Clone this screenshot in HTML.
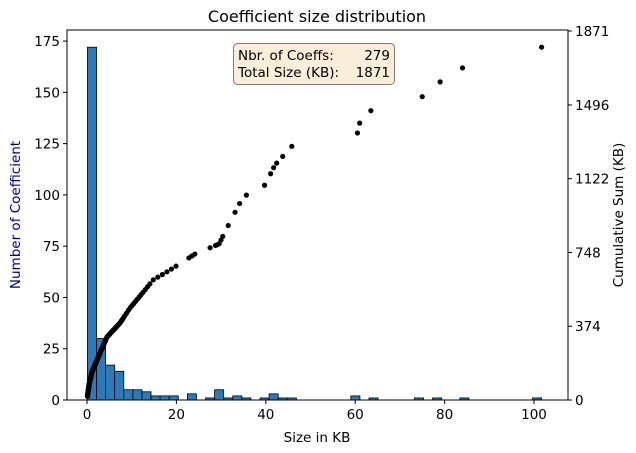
<!DOCTYPE html>
<html><head><meta charset="utf-8"><style>
body{margin:0;background:#fff}
svg{display:block;font-family:"DejaVu Sans","Liberation Sans",sans-serif}
</style></head><body>
<svg id="s" width="636" height="453" viewBox="0 0 636 453" xmlns="http://www.w3.org/2000/svg">
<rect width="636" height="453" fill="#fff"/>
<g id="bars"></g>
<g id="dots"></g>
<rect x="67" y="30" width="501" height="370" fill="none" stroke="#000" stroke-width="1"/>
<g id="ticks" stroke="#000" stroke-width="1"></g>
<g id="labels" font-size="13.5" fill="#000"></g>
<text x="317" y="22" font-size="16" text-anchor="middle">Coefficient size distribution</text>
<text x="317" y="442" font-size="13.5" text-anchor="middle">Size in KB</text>
<text transform="translate(20,215) rotate(-90)" font-size="13.5" text-anchor="middle" fill="#00008b">Number of Coefficient</text>
<text transform="translate(623,215) rotate(-90)" font-size="13.5" text-anchor="middle">Cumulative Sum (KB)</text>
<rect x="233.5" y="43.5" width="161" height="41" rx="4" fill="#f5deb3" fill-opacity="0.5" stroke="#000" stroke-opacity="0.5"/>
<text x="238" y="60" font-size="13.5">Nbr. of Coeffs:</text>
<text x="390" y="60" font-size="13.5" text-anchor="end">279</text>
<text x="238" y="77" font-size="13.5">Total Size (KB):</text>
<text x="390" y="77" font-size="13.5" text-anchor="end">1871</text>
</svg>
<script>
var NS="http://www.w3.org/2000/svg";
function el(p,t,a,txt){var e=document.createElementNS(NS,t);for(var k in a)e.setAttribute(k,a[k]);if(txt!==undefined)e.textContent=txt;document.getElementById(p).appendChild(e);return e;}
var X=function(v){return 87+4.47*v;};
var YL=function(c){return 400-2.051*c;};
var YR=function(c){return 400-369/1871*c;};
var lo=0.1,w=2.032;
var counts={0:172,1:30,2:17,3:14,4:5,5:5,6:4,7:2,8:2,9:2,11:3,13:1,14:5,15:1,16:2,17:1,19:1,20:3,21:1,22:1,29:2,31:1,36:1,38:1,41:1,49:1};
var sizes=[];
for(var b in counts){var c=counts[b];var x0=lo+w*b;
 el("bars","rect",{x:X(x0),y:YL(c),width:4.47*w,height:2.051*c,fill:"#2b7bba",stroke:"#000","stroke-width":0.8});
 for(var i=0;i<c;i++)sizes.push(x0+w*(i+0.5)/c);}
sizes.sort(function(a,b){return a-b;});
sizes.splice(sizes.length-7,7);
var tab=[[87,400],[89,385],[92,372],[97,360],[107,337],[120,323],[130,308],[145,290],[153,280],[170,270],[195,254],[219,244],[230,222],[243,197],[265,185],[275,165],[293,145]];
function interp(px){for(var j=1;j<tab.length;j++){if(px<=tab[j][0]){var a=tab[j-1],b=tab[j];return a[1]+(b[1]-a[1])*(px-a[0])/(b[0]-a[0]);}}return tab[tab.length-1][1];}
for(i=0;i<sizes.length;i++){var px=X(sizes[i]);el("dots","circle",{cx:px,cy:interp(px),r:2.6,fill:"#000"});}
var tail=[60.5,61,63.5,75,79,84,101.7];
var tc=[1354,1404,1467,1538,1613,1684,1789];
for(i=0;i<7;i++)el("dots","circle",{cx:X(tail[i]),cy:YR(tc[i]),r:2.6,fill:"#000"});
[0,20,40,60,80,100].forEach(function(v){var x=X(v);el("ticks","line",{x1:x,x2:x,y1:400,y2:404});el("labels","text",{x:x,y:419,"text-anchor":"middle"},v);});
for(var v=0;v<=175;v+=25){var y=YL(v);el("ticks","line",{x1:63,x2:67,y1:y,y2:y});el("labels","text",{x:60,y:y+5,"text-anchor":"end"},v);}
[0,374,748,1122,1496,1871].forEach(function(v){var y=v==1871?31:YR(v);el("ticks","line",{x1:568,x2:572,y1:y,y2:y});el("labels","text",{x:575,y:y+5},v);});
</script>
</body></html>
